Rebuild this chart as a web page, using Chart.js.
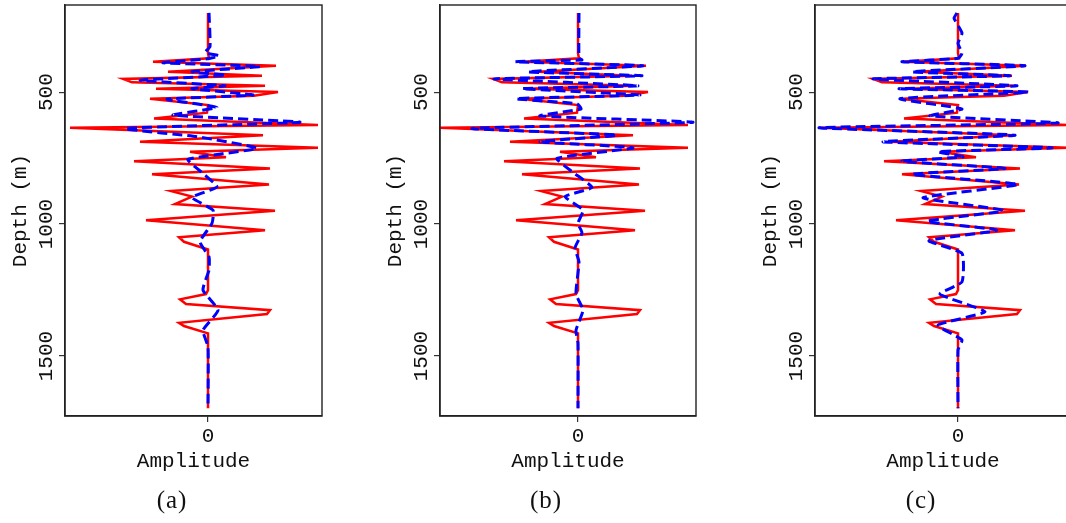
<!DOCTYPE html>
<html>
<head>
<meta charset="utf-8">
<script src="https://cdn.jsdelivr.net/npm/chart.js@4.4.1/dist/chart.umd.min.js"></script>
<style>
  html, body { margin: 0; padding: 0; background: #fff; overflow: hidden; }
  #wrap { position: relative; width: 1066px; height: 523px; overflow: hidden; }
  .panel { position: absolute; top: 0; width: 375px; height: 523px; }
  .panel canvas { display: block; }
  .cap { position: absolute; top: 486px; width: 60px; margin-left: -30px; text-align: center;
         font-family: "Liberation Serif", serif; font-size: 25px; color: #111; letter-spacing: 1px; }
</style>
</head>
<body>
<div id="wrap">
  <div class="panel" style="left:0px"><canvas id="pa" width="375" height="523"></canvas></div>
  <div class="panel" style="left:375px"><canvas id="pb" width="375" height="523"></canvas></div>
  <div class="panel" style="left:750px"><canvas id="pc" width="375" height="523"></canvas></div>
  <div class="cap" style="left:172px">(a)</div>
  <div class="cap" style="left:546px">(b)</div>
  <div class="cap" style="left:921px">(c)</div>
</div>
<script>
// axis ticks
const depthTicks = [500, 1000, 1500];
const ampTicks = [0];

// red trace (same in every panel)
const redDepth = [200, 353, 372, 385, 400, 423, 438, 450, 463, 476, 487, 500, 514, 525, 549, 578,
  600, 625, 635, 663, 688, 711, 726, 747, 762, 789, 811, 850, 875, 896, 924, 949, 985, 1023,
  1050, 1067, 1096, 1250, 1265, 1285, 1303, 1326, 1341, 1374, 1386, 1414, 1698];
const redAmp = [0, 0, 0.01, -0.55, 0.68, -0.40, 0.54, -0.85, -0.76, 0.57, -0.52, 0.70, 0.46, -0.58, 0, -0.01,
  -0.54, 1.10, -1.38, 0.55, -0.68, 1.10, -0.18, 0.18, -0.74, 0.62, -0.56, 0.61, -0.37, -0.16, -0.33, 0.67, -0.62, 0.57,
  -0.29, -0.24, 0, 0, -0.02, -0.28, -0.22, 0.62, 0.59, -0.29, -0.24, 0, 0];

// blue traces, one per panel
const blueDepthA = [200, 328, 350, 362, 374, 389, 403, 423, 436, 455, 476, 487, 511, 527, 558, 587,
  614, 638, 669, 713, 755, 808, 859, 899, 947, 997, 1067, 1124, 1174, 1250, 1326, 1402, 1465, 1698];
const blueAmpA = [0.01, 0.02, -0.03, 0.11, -0.01, -0.45, 0.52, -0.16, 0.18, -0.68, 0.17, -0.16, 0.45, -0.41, 0.09, -0.35,
  0.92, -0.83, -0.11, 0.49, -0.20, -0.05, 0.09, -0.16, 0.05, 0.04, -0.08, 0.01, 0.01, -0.05, 0.10, -0.05, 0, 0];

const blueDepthB = [200, 370, 378, 385, 400, 423, 438, 450, 476, 487, 511, 525, 544, 564, 590,
  614, 638, 663, 688, 711, 751, 804, 861, 896, 947, 997, 1033, 1090, 1143, 1265, 1326, 1402, 1452, 1698];
const blueAmpB = [0.01, 0.01, 0.04, -0.63, 0.65, -0.50, 0.64, -0.84, 0.60, -0.56, 0.62, -0.62, -0.01, 0.03, -0.38,
  1.15, -1.06, 0.39, -0.38, 0.55, -0.21, -0.05, 0.14, -0.13, 0.05, 0, 0.04, -0.03, 0.01, -0.02, 0.05, -0.02, 0, 0];

const blueDepthC = [200, 220, 276, 315, 353, 372, 385, 400, 423, 438, 450, 476, 487, 500, 525, 564, 590,
  617, 635, 663, 688, 711, 726, 745, 762, 789, 811, 850, 900, 949, 989, 1023, 1063, 1111, 1219,
  1265, 1332, 1383, 1439, 1477, 1698];
const blueAmpC = [-0.01, -0.04, 0.04, 0, 0.04, 0, -0.56, 0.67, -0.46, 0.52, -0.85, 0.59, -0.59, 0.70, -0.58, 0.04, -0.28,
  1.00, -1.39, 0.57, -0.75, 0.94, -0.20, 0.05, -0.56, 0.47, -0.46, 0.60, -0.35, 0.45, -0.31, 0.39, -0.29, 0.04, 0.04,
  -0.18, 0.27, -0.20, 0.04, 0, 0];

const monoFont = { family: '"Liberation Mono", "DejaVu Sans Mono", monospace', size: 21 };

const toPoints = (ys, xs) => ys.map((y, i) => ({ x: xs[i], y: y }));

const framePlugin = {
  id: 'frame',
  afterDraw(chart) {
    const { ctx, chartArea: a } = chart;
    ctx.save();
    ctx.strokeStyle = '#222';
    ctx.lineWidth = 1.4;
    ctx.strokeRect(a.left, a.top, a.right - a.left, a.bottom - a.top);
    ctx.restore();
  }
};

function makePanel(id, blueDepth, blueAmp, xMin, xMax, rightPad) {
  new Chart(document.getElementById(id), {
    type: 'scatter',
    data: {
      datasets: [
        {
          data: toPoints(blueDepth, blueAmp),
          showLine: true, borderColor: '#0000ff', borderWidth: 3, borderDash: [10, 5],
          pointRadius: 0, tension: 0.15, order: 0
        },
        {
          data: toPoints(redDepth, redAmp),
          showLine: true, borderColor: '#ff0000', borderWidth: 2.5,
          pointRadius: 0, tension: 0, order: 1
        }
      ]
    },
    options: {
      responsive: false,
      animation: false,
      devicePixelRatio: 1,
      layout: { padding: { top: 5, left: 0, right: rightPad, bottom: 49 } },
      plugins: { legend: { display: false }, tooltip: { enabled: false } },
      scales: {
        x: {
          type: 'linear', min: xMin, max: xMax,
          afterBuildTicks: s => { s.ticks = ampTicks.map(v => ({ value: v })); },
          afterFit: s => { s.height = 58; },
          ticks: { font: monoFont, color: '#111', padding: 2, callback: v => String(v) },
          grid: { drawOnChartArea: false, drawTicks: true, tickLength: 6, color: '#333', lineWidth: 1.2 },
          border: { display: true, color: '#222', width: 1.4 },
          title: { display: true, text: 'Amplitude', font: monoFont, color: '#111', padding: 0 }
        },
        y: {
          type: 'linear', reverse: true, min: 170, max: 1727,
          afterBuildTicks: s => { s.ticks = depthTicks.map(v => ({ value: v })); },
          afterFit: s => { s.width = 65; },
          ticks: { font: monoFont, color: '#111', minRotation: 90, maxRotation: 90,
                   crossAlign: 'center', padding: -13, callback: v => String(v) },
          grid: { drawOnChartArea: false, drawTicks: true, tickLength: 6, color: '#333', lineWidth: 1.2 },
          border: { display: true, color: '#222', width: 1.4 },
          title: { display: true, text: 'Depth (m)', font: monoFont, color: '#111', padding: { top: 8, bottom: 0 } }
        }
      }
    },
    plugins: [framePlugin]
  });
}

makePanel('pa', blueDepthA, blueAmpA, -1.43, 1.14, 53);
makePanel('pb', blueDepthB, blueAmpB, -1.38, 1.18, 54);
makePanel('pc', blueDepthC, blueAmpC, -1.43, 1.13, 54);
</script>
</body>
</html>
